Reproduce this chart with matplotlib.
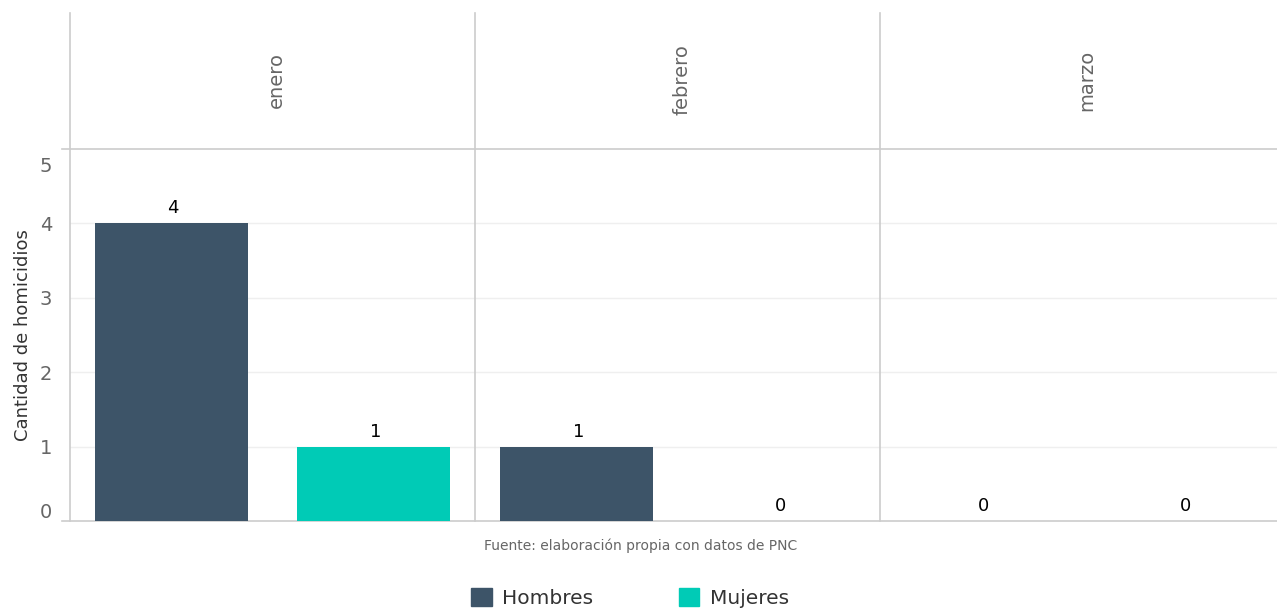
import matplotlib
matplotlib.use("Agg")
import matplotlib.pyplot as plt
import matplotlib.transforms as mtransforms
from matplotlib.patches import Patch

meses = ["enero", "febrero", "marzo"]
sexos = ["Hombres", "Mujeres"]
hombres = [4, 1, 0]
mujeres = [1, 0, 0]
colores = {"Hombres": "#3d5468", "Mujeres": "#00cbb6"}

W, H = 1277, 608
fig = plt.figure(figsize=(W / 100, H / 100), dpi=100)

# plot area in pixels
x0, x1 = 70, 1285
y_top, y_bot = 149, 521
ax = fig.add_axes([x0 / W, 1 - y_bot / H, (x1 - x0) / W, (y_bot - y_top) / H])

pos = 0
for i, m in enumerate(meses):
    for s, vals in zip(sexos, [hombres, mujeres]):
        v = vals[i]
        ax.bar(pos, v, width=0.756, color=colores[s], zorder=3)
        ax.text(pos + 0.01, v + 0.08, str(v), ha="center", va="bottom",
                fontsize=13, color="black", zorder=4)
        pos += 1

ax.set_xlim(-0.5, 5.5)
ax.set_ylim(0, 5)
ax.set_xticks([])
ax.set_yticks([0, 1, 2, 3, 4, 5])
ax.tick_params(axis="y", length=0, labelsize=14, labelcolor="#666666", pad=13)
for sp in ax.spines.values():
    sp.set_visible(False)

# gridlines
for g in [1, 2, 3, 4]:
    ax.axhline(g, color="#efefef", lw=1, zorder=1)
for g in [0, 5]:
    ax.plot([-0.54, 5.5], [g, g], color="#cccccc", lw=1.2, clip_on=False, zorder=2)

# nudge first and last tick labels inside the plot area
labs = ax.get_yticklabels()
labs[0].set_transform(labs[0].get_transform() + mtransforms.ScaledTranslation(0, 11 / 100, fig.dpi_scale_trans))
labs[-1].set_transform(labs[-1].get_transform() + mtransforms.ScaledTranslation(0, -15 / 100, fig.dpi_scale_trans))

# column separators extending into header
top_frac = (y_bot - 13) / (y_bot - y_top)
trans = mtransforms.blended_transform_factory(ax.transData, ax.transAxes)
for xs in [-0.5, 1.5, 3.5]:
    ax.plot([xs, xs], [0, top_frac], color="#cccccc", lw=1.2, transform=trans,
            clip_on=False, zorder=2)

# month headers
hdr_y = (y_bot - 80) / (y_bot - y_top)
for i, m in enumerate(meses):
    ax.text(2 * i + 0.52, hdr_y, m, rotation=90, ha="center", va="center",
            fontsize=14, color="#666666", transform=trans)

ax.set_ylabel("Cantidad de homicidios", fontsize=13, color="#333333")
ax.yaxis.set_label_coords((32 - x0) / (x1 - x0), 0.5)

fig.text(641 / W, 1 - 546 / H, "Fuente: elaboración propia con datos de PNC",
         ha="center", va="center", fontsize=10, color="#666666")

handles = [Patch(color=colores[s], label=s) for s in sexos]
fig.legend(handles=handles, loc="center", bbox_to_anchor=(630 / W, 1 - 598 / H),
           ncol=2, frameon=False, fontsize=14.5, labelcolor="#333333",
           handlelength=1.0, handleheight=1.0, handletextpad=0.5, columnspacing=4.3)

fig.savefig("out.png", dpi=100)
